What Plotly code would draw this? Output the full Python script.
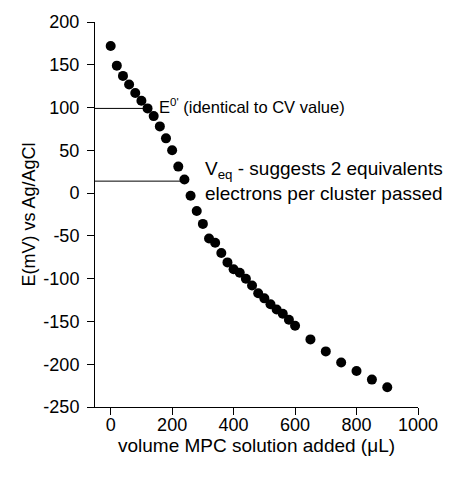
import plotly.graph_objects as go

# Data
volume_uL = [0, 20, 40, 60, 80, 100, 120, 140, 160, 180, 200, 220, 240, 260, 280,
             300, 320, 340, 360, 380, 400, 420, 440, 460, 480, 500, 520, 540, 560,
             580, 600, 650, 700, 750, 800, 850, 900]
potential_mV = [172, 149, 137, 127, 117, 108, 99, 90, 78, 64, 50, 31, 16, -3, -21,
                -36, -53, -58, -70, -81, -89, -93, -100, -108, -117, -123, -130, -136, -141,
                -148, -155, -171, -185, -198, -208, -218, -227]

e0_potential = 99
e0_volume = 120
veq_potential = 14
veq_volume = 240

x_range = [-51, 1000]
y_range = [-250, 200]
x_ticks = [0, 200, 400, 600, 800, 1000]
y_ticks = [-250, -200, -150, -100, -50, 0, 50, 100, 150, 200]
y_tick_labels = ["-250", "-200", "-150", "-100", "-50", "0", "50", "100", "150", "200"]

FONT = "Liberation Sans, Arial, sans-serif"

fig = go.Figure()

# Reference lines
fig.add_trace(go.Scatter(x=[x_range[0], e0_volume], y=[e0_potential, e0_potential],
                         mode="lines", line=dict(color="black", width=1),
                         hoverinfo="skip", showlegend=False))
fig.add_trace(go.Scatter(x=[x_range[0], veq_volume], y=[veq_potential, veq_potential],
                         mode="lines", line=dict(color="black", width=1),
                         hoverinfo="skip", showlegend=False))

fig.add_trace(go.Scatter(x=volume_uL, y=potential_mV, mode="markers",
                         marker=dict(color="black", size=10, line=dict(width=0)),
                         showlegend=False))

fig.add_annotation(x=e0_volume + 32, y=e0_potential + 3, xref="x", yref="y",
                   text="E<sup>0'</sup> (identical to CV value)", showarrow=False,
                   xanchor="left", yanchor="middle",
                   font=dict(family=FONT, size=16.5, color="black"))
fig.add_annotation(x=veq_volume + 62, y=veq_potential, xref="x", yref="y",
                   text="V<sub>eq</sub> - suggests 2 equivalents<br>electrons per cluster passed",
                   showarrow=False, xanchor="left", yanchor="middle", align="left",
                   font=dict(family=FONT, size=19, color="black"))

fig.update_layout(
    width=450, height=477,
    margin=dict(l=95, r=27, t=22, b=70),
    plot_bgcolor="white", paper_bgcolor="white",
    font=dict(family=FONT, size=17, color="black"),
    xaxis=dict(range=x_range, tickvals=x_ticks, ticks="outside", ticklen=7,
               tickcolor="black", showline=True, linecolor="black", linewidth=1,
               showgrid=False, zeroline=False, ticklabelstandoff=-6,
               tickfont=dict(size=18),
               title=dict(text="volume MPC solution added (\u03bcL)", standoff=2,
                          font=dict(size=19))),
    yaxis=dict(range=y_range, tickvals=y_ticks, ticktext=y_tick_labels,
               ticks="outside", ticklen=7,
               tickcolor="black", showline=True, linecolor="black", linewidth=1,
               showgrid=False, zeroline=False, ticklabelstandoff=4,
               tickfont=dict(size=18),
               title=dict(text="E(mV) vs Ag/AgCl", standoff=3, font=dict(size=18))),
)

fig.write_html("out.html")
